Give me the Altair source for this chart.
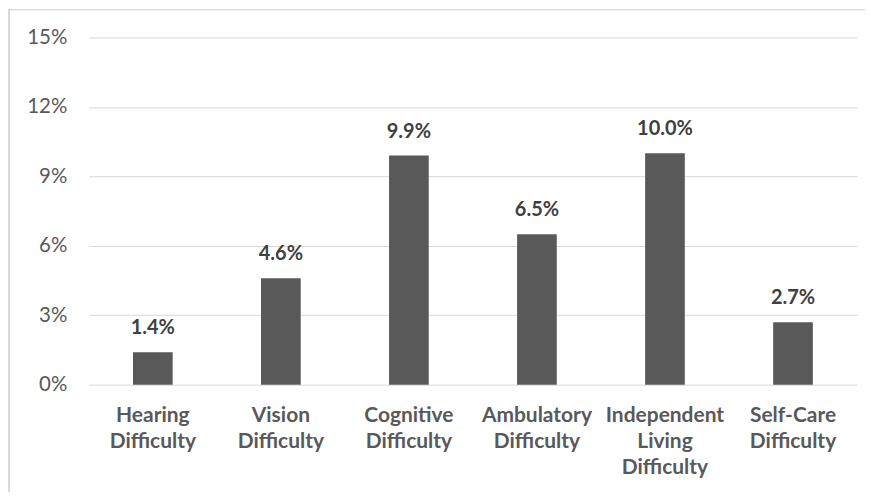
import altair as alt
import pandas as pd

categories = [
    "Hearing Difficulty",
    "Vision Difficulty",
    "Cognitive Difficulty",
    "Ambulatory Difficulty",
    "Independent Living Difficulty",
    "Self-Care Difficulty",
]
values = [1.4, 4.6, 9.9, 6.5, 10.0, 2.7]
y_ticks = [0, 3, 6, 9, 12, 15]

df = pd.DataFrame({"category": categories, "value": values})
df["label"] = [f"{v:.1f}%" for v in values]

FONT = "Lato"
GRAY = "#595959"

base = alt.Chart(df)

x_enc = alt.X(
    "category:N",
    sort=categories,
    scale=alt.Scale(paddingInner=0.69, paddingOuter=0.345),
    axis=alt.Axis(
        title=None,
        labelAngle=0,
        labelExpr="split(datum.label, ' ')",
        labelFont=FONT,
        labelFontSize=21,
        labelFontWeight="bold",
        labelColor=GRAY,
        labelLineHeight=26,
        labelPadding=20,
        ticks=False,
        domain=False,
        labelLimit=200,
    ),
)
y_enc = alt.Y(
    "value:Q",
    scale=alt.Scale(domain=[0, 15], nice=False),
    axis=alt.Axis(
        title=None,
        values=y_ticks,
        labelExpr="datum.value + '%'",
        labelFont=FONT,
        labelFontSize=20.5,
        labelColor=GRAY,
        labelPadding=22,
        ticks=False,
        domain=False,
        grid=True,
        gridColor="#d9d9d9",
        gridWidth=1,
    ),
)

bars = base.mark_bar(color=GRAY).encode(x=x_enc, y=y_enc)
labels = base.mark_text(
    font=FONT, fontSize=20, fontWeight="bold", color="#404040", dy=-18, baseline="alphabetic"
).encode(x=alt.X("category:N", sort=categories), y="value:Q", text="label:N")

frame_left = base.mark_rule(color="#d9d9d9", strokeWidth=1).encode(
    x=alt.value(-80), y=alt.value(-28), y2=alt.value(455)
)
frame_top = base.mark_rule(color="#d9d9d9", strokeWidth=1).encode(
    x=alt.value(-80), x2=alt.value(778), y=alt.value(-28)
)

chart = (
    alt.layer(bars, labels, frame_left, frame_top)
    .properties(width=770, height=348, padding=0)
    .configure_view(stroke=None)
)

chart.save("out.html", embed_options={"renderer": "svg", "actions": False})
